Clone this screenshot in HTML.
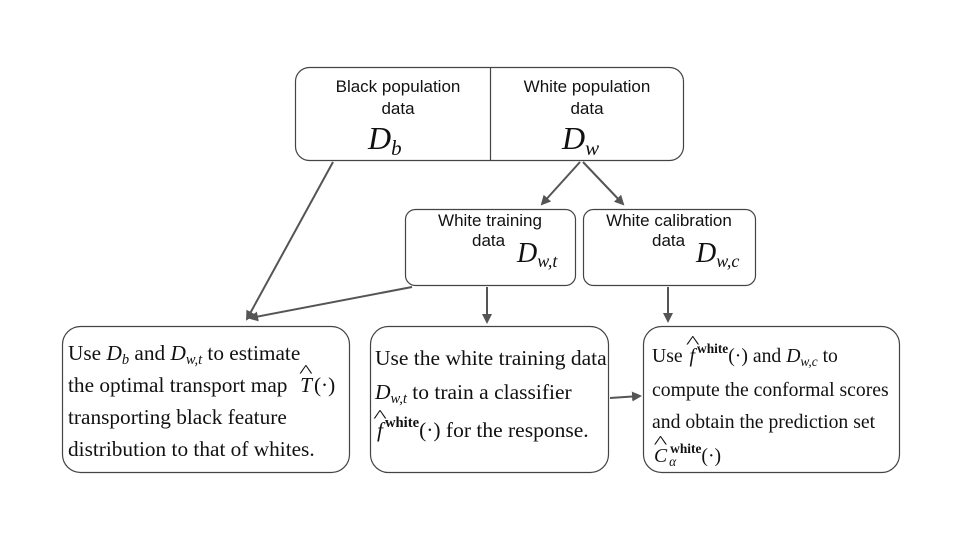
<!DOCTYPE html>
<html><head><meta charset="utf-8"><style>
body{margin:0;width:960px;height:540px;background:#fff;position:relative;overflow:hidden}
.t{position:absolute;white-space:nowrap;color:#111}
.s{font-family:"Liberation Sans",sans-serif;font-size:17px;text-align:center}
.r{font-family:"Liberation Serif",serif;font-size:20px;line-height:24px;height:24px}
.D{font-family:"Liberation Serif",serif;font-style:italic}
.sb{font-size:0.68em;font-style:italic;position:relative;top:0.3em;line-height:0}
.sp{font-size:0.68em;font-weight:bold;position:relative;top:-0.7em;line-height:0}
i{font-family:"Liberation Serif",serif}
.h{position:relative;display:inline-block;font-style:italic;padding:0 2px}
.h::after{content:"^";position:absolute;left:0;right:0;top:-14px;text-align:center;font-style:normal;font-size:18px;transform:scaleX(1.6)}
</style></head><body>
<svg width="960" height="540" style="position:absolute;left:0;top:0">
<defs><marker id="a" markerWidth="10" markerHeight="10" refX="8" refY="5" orient="auto" markerUnits="userSpaceOnUse"><path d="M0,0 L10,5 L0,10 Z" fill="#555"/></marker></defs>
<g fill="none" stroke="#444" stroke-width="1.2">
<rect x="295.5" y="67.5" width="388" height="93" rx="14"/>
<line x1="490.5" y1="67.5" x2="490.5" y2="160.5"/>
<rect x="405.5" y="209.5" width="170" height="76" rx="10"/>
<rect x="583.5" y="209.5" width="172" height="76" rx="10"/>
<rect x="62.5" y="326.5" width="287" height="146" rx="18"/>
<rect x="370.5" y="326.5" width="238" height="146" rx="18"/>
<rect x="643.5" y="326.5" width="256" height="146" rx="18"/>
</g>
<g stroke="#555" stroke-width="2" fill="none" marker-end="url(#a)">
<line x1="333" y1="162" x2="247" y2="319"/>
<line x1="412" y1="287" x2="250" y2="318"/>
<line x1="580" y1="162" x2="542" y2="204"/>
<line x1="583" y1="162" x2="623" y2="204"/>
<line x1="487" y1="287" x2="487" y2="322"/>
<line x1="668" y1="287" x2="668" y2="321"/>
<line x1="610" y1="398" x2="640" y2="396"/>
</g>
</svg>
<div class="t s" style="left:300px;width:196px;top:76px;line-height:22px">Black population<br>data</div>
<div class="t s" style="left:490px;width:194px;top:76px;line-height:22px">White population<br>data</div>
<div class="t D" style="left:368px;top:120px;font-size:32px">D<span class="sb" style="font-size:21px">b</span></div>
<div class="t D" style="left:562px;top:120px;font-size:32px">D<span class="sb" style="font-size:21px">w</span></div>
<div class="t s" style="left:405px;width:170px;top:210px;line-height:22px">White training</div>
<div class="t s" style="left:472px;top:231px">data</div>
<div class="t D" style="left:517px;top:238px;font-size:28px">D<span class="sb" style="font-size:18px">w,t</span></div>
<div class="t s" style="left:583px;width:172px;top:210px;line-height:22px">White calibration</div>
<div class="t s" style="left:652px;top:231px">data</div>
<div class="t D" style="left:696px;top:238px;font-size:28px">D<span class="sb" style="font-size:18px">w,c</span></div>

<div style="font-size:21.3px">
<div class="t r" style="left:68px;top:341px;font-size:21.3px">Use <i>D</i><span class="sb">b</span> and <i>D</i><span class="sb">w,t</span> to estimate</div>
<div class="t r" style="left:68px;top:373px;font-size:21.3px">the optimal transport map &nbsp;<span class="h">T</span>(·)</div>
<div class="t r" style="left:68px;top:405px;font-size:21.3px">transporting black feature</div>
<div class="t r" style="left:68px;top:437px;font-size:21.3px">distribution to that of whites.</div>
</div>

<div class="t r" style="left:375px;top:346px;font-size:21.5px">Use the white training data</div>
<div class="t r" style="left:375px;top:380px;font-size:21.5px"><i>D</i><span class="sb">w,t</span> to train a classifier</div>
<div class="t r" style="left:375px;top:418px;font-size:21.5px"><span class="h">f</span><span class="sp">white</span>(·) for the response.</div>

<div class="t r" style="left:652px;top:344px;font-size:19.7px">Use <span class="h">f</span><span class="sp">white</span>(·) and <i>D</i><span class="sb">w,c</span> to</div>
<div class="t r" style="left:652px;top:378px;font-size:19.7px">compute the conformal scores</div>
<div class="t r" style="left:652px;top:410px;font-size:19.7px">and obtain the prediction set</div>
<div class="t r" style="left:652px;top:444px;font-size:19.7px"><span class="h">C</span><span class="sb">α</span><span class="sp" style="margin-left:-6px">white</span>(·)</div>
</body></html>
